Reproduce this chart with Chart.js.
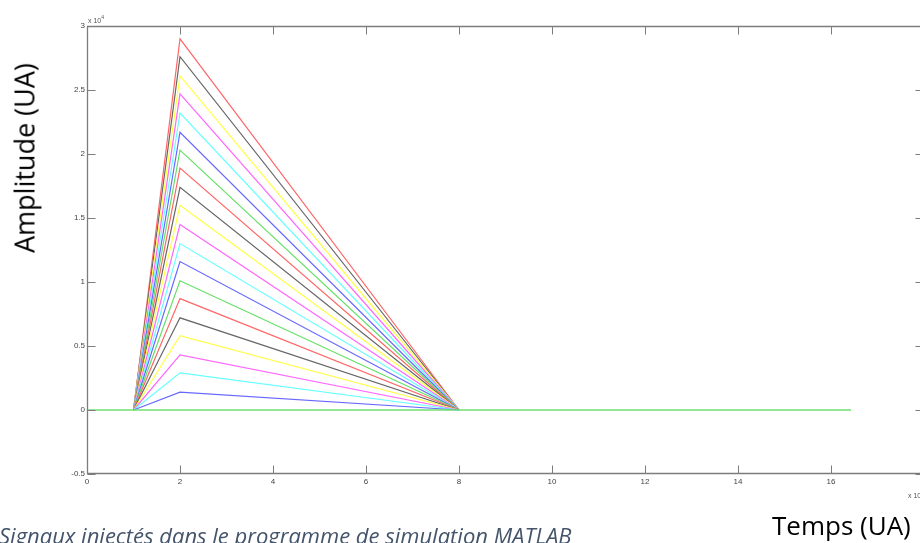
<!DOCTYPE html>
<html>
<head>
<meta charset="utf-8">
<script src="https://cdn.jsdelivr.net/npm/chart.js@4/dist/chart.umd.min.js"></script>
<style>
html,body{margin:0;padding:0;background:#fff;overflow:hidden;width:920px;height:543px;}
#wrap{position:relative;width:920px;height:543px;overflow:hidden;}
canvas{position:absolute;left:0;top:0;}
.lbl{position:absolute;white-space:nowrap;line-height:1;}
</style>
</head>
<body>
<div id="wrap">
<canvas id="c" width="925" height="543"></canvas>
<div class="lbl" id="ylab" style="font-family:'Open Sans';font-size:27px;color:#000;left:24px;top:158px;transform:translate(-50%,-50%) rotate(-90deg);">Amplitude (UA)</div>
<div class="lbl" id="xlab" style="font-family:'Open Sans';font-size:26px;color:#000;left:772px;top:512px;">Temps (UA)</div>
<div class="lbl" id="cap" style="font-family:'Open Sans';font-style:italic;font-size:22px;color:#44546a;left:-1px;top:524px;">Signaux injectés dans le programme de simulation MATLAB</div>
<div class="lbl" style="font-family:'Liberation Sans';font-size:7px;color:#555;left:88px;top:15px;">x 10<sup style="font-size:5px;vertical-align:4px;">4</sup></div>
<div class="lbl" style="font-family:'Liberation Sans';font-size:7px;color:#555;left:908px;top:490px;">x 10<sup style="font-size:5px;vertical-align:4px;">4</sup></div>
</div>
<script>
// ---- data ----
const pulseTimes = [1, 2, 8];                 // start, peak, end of each pulse
const peakAmplitudes = [0.14, 0.29, 0.43, 0.58, 0.72, 0.87, 1.01, 1.16, 1.30, 1.45,
                        1.60, 1.74, 1.89, 2.03, 2.17, 2.32, 2.47, 2.61, 2.76, 2.90];
const baselineTimes = [0, 16.43];
const baselineValues = [0, 0];
const xTickLabels = ['0', '2', '4', '6', '8', '10', '12', '14', '16'];
const yTickLabels = ['-0.5', '0', '0.5', '1', '1.5', '2', '2.5', '3'];

// ---- styles ----
const seriesColors = ['#6868ff', '#66ffff', '#ff66ff', '#ffff44', '#666666', '#ff6666', '#66e066',
                      '#6868ff', '#66ffff', '#ff66ff', '#ffff44', '#666666', '#ff6666', '#66e066',
                      '#6868ff', '#66ffff', '#ff66ff', '#ffff44', '#666666', '#ff6666'];
const baselineColor = '#70e070';
const axisColor = '#7c7c7c';

const datasets = [{
  data: baselineTimes.map((t, i) => ({x: t, y: baselineValues[i]})),
  borderColor: baselineColor, borderWidth: 1.4, pointRadius: 0, tension: 0, fill: false
}];
peakAmplitudes.forEach((p, i) => {
  const vals = [0, p, 0];
  datasets.push({
    data: pulseTimes.map((t, k) => ({x: t, y: vals[k]})),
    borderColor: seriesColors[i], borderWidth: 1.2, pointRadius: 0, tension: 0, fill: false
  });
});

const matlabAxes = {
  id: 'matlabAxes',
  afterDatasetsDraw(chart) {
    const {ctx, chartArea: a, scales: {x, y}} = chart;
    const L = Math.round(a.left) + 0.5, R = Math.round(a.right) - 0.5;
    const T = Math.round(a.top) + 0.5, B = Math.round(a.bottom) - 0.5;
    const tl = 8;
    ctx.save();
    ctx.strokeStyle = axisColor;
    ctx.lineWidth = 1.3;
    ctx.beginPath();
    ctx.moveTo(L, T); ctx.lineTo(R, T); ctx.lineTo(R, B); ctx.lineTo(L, B); ctx.closePath();
    ctx.stroke();
    ctx.lineWidth = 1;
    ctx.beginPath();
    x.ticks.forEach(t => {
      const px = Math.round(x.getPixelForValue(t.value)) + 0.5;
      ctx.moveTo(px, B); ctx.lineTo(px, B - tl);
      ctx.moveTo(px, T); ctx.lineTo(px, T + tl);
    });
    y.ticks.forEach(t => {
      const py = Math.round(y.getPixelForValue(t.value)) + 0.5;
      ctx.moveTo(L, py); ctx.lineTo(L + tl, py);
      ctx.moveTo(R, py); ctx.lineTo(R - tl, py);
    });
    ctx.stroke();
    ctx.restore();
  }
};

new Chart(document.getElementById('c'), {
  type: 'line',
  data: {datasets},
  options: {
    responsive: false,
    animation: false,
    devicePixelRatio: 1,
    layout: {padding: {left: 0, top: 26, right: 1, bottom: 0}},
    plugins: {legend: {display: false}, tooltip: {enabled: false}},
    scales: {
      x: {
        type: 'linear', min: 0, max: 18,
        grid: {display: false, drawTicks: false},
        border: {display: false},
        afterFit: s => { s.height = 69; s.paddingRight = 0; },
        ticks: {
          stepSize: 2, padding: 3, maxRotation: 0, autoSkip: false,
          color: '#444', font: {family: 'Liberation Sans', size: 8},
          callback: (v, i) => xTickLabels[i] !== undefined ? xTickLabels[i] : ''
        }
      },
      y: {
        type: 'linear', min: -0.5, max: 3,
        grid: {display: false, drawTicks: false},
        border: {display: false},
        afterFit: s => { s.width = 87; },
        ticks: {
          stepSize: 0.5, padding: 2, autoSkip: false,
          color: '#444', font: {family: 'Liberation Sans', size: 8},
          callback: (v, i) => yTickLabels[i]
        }
      }
    }
  },
  plugins: [matlabAxes]
});
</script>
</body>
</html>
